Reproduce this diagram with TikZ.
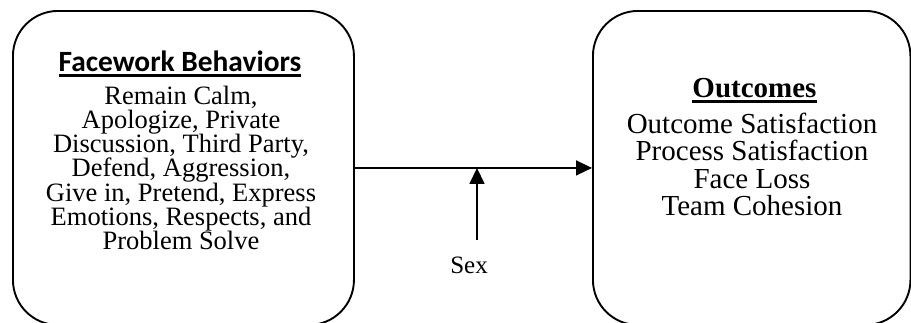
\documentclass[tikz,border=0pt]{standalone}
\usepackage{fontspec}
\setmainfont{Liberation Serif}
\newfontfamily\headfont{Carlito}
\usetikzlibrary{arrows.meta}
\newcommand\myul[2]{\leavevmode\setbox0\hbox{#2}\rlap{\vrule width\wd0 height -#1 depth \dimexpr#1+3pt\relax}\box0}
\newcommand\lines[2]{\vtop{\baselineskip=#1\lineskiplimit=-100pt\lineskip=0pt\halign{\hfil##\hfil\cr#2\crcr}}}
\begin{document}
\begin{tikzpicture}[x=1pt,y=-1pt,
  box/.style={draw, line width=1.9pt, rounded corners=45pt, minimum height=314pt, inner sep=0pt, anchor=north west},
  arr/.style={line width=1.6pt, -{Triangle[length=16pt,width=15pt]}},
  txt/.style={anchor=base, inner sep=0pt}]
\useasboundingbox (0,0) rectangle (911,322);
\node[box, minimum width=341pt] (fw) at (12,10) {};
\node[box, minimum width=317.5pt] (out) at (592,10) {};
\node[txt, font=\headfont\bfseries\fontsize{29.4}{30}\selectfont] (fwhead) at (180,71.5) {\myul{2.5pt}{Facework Behaviors}};
\node[txt, font=\fontsize{26.5}{24}\selectfont] (fwtext) at (181,104) {\lines{24.3pt}{Remain Calm,\cr Apologize, Private\cr Discussion, Third Party,\cr Defend, Aggression,\cr Give in, Pretend, Express\cr Emotions, Respects, and\cr Problem Solve}};
\node[txt, font=\bfseries\fontsize{29}{30}\selectfont] (outhead) at (754.5,97) {\myul{3pt}{Outcomes}};
\node[txt, font=\fontsize{29}{27.5}\selectfont] (outtext) at (752,133) {\lines{27.5pt}{Outcome Satisfaction\cr Process Satisfaction\cr Face Loss\cr Team Cohesion}};
\node[txt, font=\fontsize{25}{27}\selectfont] (sex) at (469,273) {Sex};
\draw[arr] (fw.east) -- (out.west);
\coordinate (sb) at (477,240);
\draw[arr] (sb) -- (sb |- fw.east);
\end{tikzpicture}
\end{document}
